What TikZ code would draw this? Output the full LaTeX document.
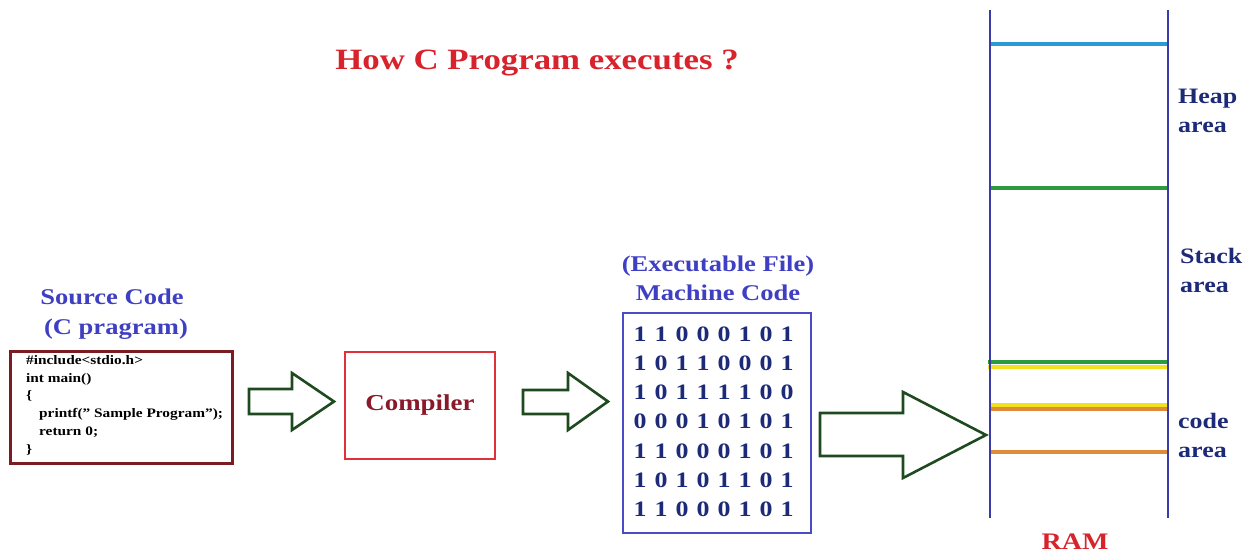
\documentclass[tikz,border=0pt]{standalone}
\usepackage{fontspec}
\setmainfont[FakeStretch=1.18]{Liberation Serif}
\definecolor{titlered}{HTML}{D8222C}
\definecolor{labelblue}{HTML}{3F3FC4}
\definecolor{navy}{HTML}{1C2A78}
\definecolor{srcframe}{HTML}{7B1C22}
\definecolor{compframe}{HTML}{E0303A}
\definecolor{compText}{HTML}{8A1A2A}
\definecolor{binframe}{HTML}{4B4BC4}
\definecolor{arrowgreen}{HTML}{1F4A1F}
\definecolor{ramblue}{HTML}{3A3AA8}
\definecolor{segcyan}{HTML}{2A9AD6}
\definecolor{seggreen}{HTML}{2E9A3E}
\definecolor{segyellow}{HTML}{F2E21E}
\definecolor{segorange}{HTML}{E08A3C}
\begin{document}
\begin{tikzpicture}[x=1pt,y=-1pt,
  heading/.style={font=\bfseries\fontsize{22.5}{24}\selectfont, text=labelblue, align=center, inner sep=0},
  arealabel/.style={font=\bfseries\fontsize{22}{29}\selectfont, text=navy, align=left, anchor=west, inner sep=0},
  blockarrow/.style={draw=arrowgreen, line width=2.6pt, line join=miter, fill=white},
  bit/.style={font=\bfseries\fontsize{22}{22}\selectfont, text=navy, inner sep=0},
  segment/.style={line width=3.6pt},
  ramwall/.style={draw=ramblue, line width=2pt}]
\useasboundingbox (0,0) rectangle (1253,558);

% title
\node[font=\bfseries\fontsize{29.5}{32}\selectfont, text=titlered, inner sep=0] (title) at (537,63) {How C Program executes ?};

% source code
\node[heading] (srclabel) at (112,314) {Source Code\\[6pt]\hspace*{8pt}(C pragram)};
\node[draw=srcframe, line width=3pt, minimum width=222pt, minimum height=112pt, inner sep=0] (src) at (121,407) {};
\node[font=\bfseries\fontsize{13}{17.8}\selectfont, align=left, anchor=north west, inner sep=0] (code) at (26,355)
  {\#include<stdio.h>\\ int main()\\ \{\\ \hspace*{13pt}printf(" Sample Program");\\ \hspace*{13pt}return 0;\\ \}};

% compiler
\node[draw=compframe, line width=2pt, minimum width=150pt, minimum height=107pt, inner sep=0,
      font=\bfseries\fontsize{22.8}{24}\selectfont, text=compText] (comp) at (420,405) {Compiler};

% machine code
\node[heading] (binlabel) at (718,278) {(Executable File)\\[5pt]Machine Code};
\node[draw=binframe, line width=2.5pt, minimum width=188pt, minimum height=220pt, inner sep=0] (bin) at (717,423) {};
\foreach \row [count=\i from 0] in {{1,1,0,0,0,1,0,1},{1,0,1,1,0,0,0,1},{1,0,1,1,1,1,0,0},{0,0,0,1,0,1,0,1},{1,1,0,0,0,1,0,1},{1,0,1,0,1,1,0,1},{1,1,0,0,0,1,0,1}}{
  \foreach \b [count=\j from 0] in \row{
    \node[bit] at (640+\j*21,334+\i*29.2) {\b};
  }
}

% block arrows between the stages
\draw[blockarrow] (249,389) -- (292,389) -- (292,373) -- (334,401.5) -- (292,430) -- (292,414) -- (249,414) -- cycle;
\draw[blockarrow] (523,390) -- (568,390) -- (568,373) -- (608,401.5) -- (568,430) -- (568,414) -- (523,414) -- cycle;
\draw[blockarrow] (820,413) -- (903,413) -- (903,392) -- (986,435) -- (903,478) -- (903,456) -- (820,456) -- cycle;

% RAM column
\coordinate (ramTL) at (990,10);
\coordinate (ramTR) at (1168,10);
\draw[segment, segcyan] (990,44) -- (1168,44);
\draw[segment, seggreen] (990,188) -- (1168,188);
\draw[segment, segyellow, line width=4.5pt] (988,367) -- (1168,367);
\draw[segment, seggreen] (988,362) -- (1168,362);
\draw[segment, segorange, line width=4.5pt] (990,409) -- (1168,409);
\draw[segment, segyellow] (990,405) -- (1168,405);
\draw[segment, segorange] (990,452) -- (1168,452);
\draw[ramwall] (ramTL) -- (990,518);
\draw[ramwall] (ramTR) -- (1168,518);

\node[arealabel] (heap) at (1178,111) {Heap\\area};
\node[arealabel] (stack) at (1180,270) {Stack\\area};
\node[arealabel] (codearea) at (1178,435) {code\\area};
\node[font=\bfseries\fontsize{23.7}{26}\selectfont, text=titlered, inner sep=0] (ram) at (1075,542) {RAM};
\end{tikzpicture}
\end{document}
